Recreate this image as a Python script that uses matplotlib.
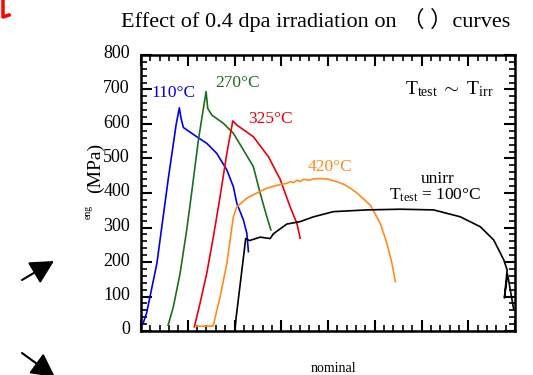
import matplotlib
matplotlib.use("Agg")
import matplotlib.pyplot as plt
from matplotlib.ticker import MultipleLocator
from matplotlib.lines import Line2D
import matplotlib.transforms as mtransforms

plt.rcParams['font.family'] = ['Liberation Serif', 'Noto Sans CJK SC']
plt.rcParams['mathtext.fontset'] = 'custom'
plt.rcParams['mathtext.rm'] = 'Liberation Serif'
plt.rcParams['mathtext.it'] = 'Liberation Serif:italic'

# ---- data (strain %, engineering stress MPa) ----
x_110 = [0.2, 0.6, 1.7, 2.9, 3.75, 4.1, 4.28, 4.53, 5.96, 7.03, 8.1, 9.18, 9.88, 10.25, 10.95, 11.32, 11.49]
y_110 = [20, 52, 196, 438, 597, 647, 617, 590, 563, 544, 515, 467, 418, 370, 322, 283, 230]

x_270 = [2.9, 3.46, 4.18, 4.89, 5.5, 6.14, 6.96, 7.14, 7.57, 8.81, 9.88, 10.95, 12.02, 12.74, 13.46, 13.89]
y_270 = [17, 70, 167, 293, 418, 554, 694, 645, 626, 602, 573, 525, 476, 400, 331, 293]

x_325 = [5.71, 6.32, 7.03, 7.74, 8.46, 9.18, 9.82, 10.25, 12.02, 13.63, 14.88, 15.95, 16.67, 17.02]
y_325 = [12, 81, 167, 273, 390, 515, 609, 597, 563, 505, 440, 360, 312, 269]

x_420 = [5.96, 7.67, 7.74, 8.46, 9.18, 9.88, 10.25, 11.32, 12.4, 13.46, 14.5, 15.6, 16.0, 16.3, 16.7, 17.0, 17.4,
         18.0, 18.5, 19.2, 20.0, 20.9, 21.7, 22.4, 23.1, 24.52, 25.59, 26.3, 26.84, 27.2]
y_420 = [14, 14, 17, 99, 196, 331, 360, 385, 400, 414, 422, 428, 433, 430, 437, 433, 440,
         437, 441, 442, 440, 433, 425, 414, 400, 365, 312, 254, 196, 143]

x_unirr = [10.06, 10.17, 11.2, 11.6, 12.74, 13.81, 14.17, 15.6, 17.02, 18.45, 20.59, 24.17, 27.73, 31.3, 34.15,
           36.3, 37.72, 38.8, 39.16, 38.87, 39.2, 39.87]
y_unirr = [5, 38, 268, 262, 272, 268, 282, 310, 317, 331, 346, 351, 353, 351, 331,
           302, 264, 206, 177, 96, 165, 61]

fig = plt.figure(figsize=(5.33, 3.75), dpi=100)
ax = fig.add_axes([141/533, 1-331/375, (515-141)/533, (331-55)/375])

ax.plot(x_110, y_110, color='#0000ee', lw=1.2)
ax.plot(x_270, y_270, color='#1b6e1b', lw=1.2)
ax.plot(x_325, y_325, color='#e8000b', lw=1.2)
ax.plot(x_420, y_420, color='#ff8c1a', lw=1.2)
ax.plot(x_unirr, y_unirr, color='black', lw=1.2)

ax.set_xlim(0, 40)
ax.set_ylim(0, 800)
ax.xaxis.set_major_locator(MultipleLocator(5))
ax.xaxis.set_minor_locator(MultipleLocator(1))
ax.yaxis.set_major_locator(MultipleLocator(100))
ax.yaxis.set_minor_locator(MultipleLocator(20))
ax.tick_params(which='both', direction='in', top=True, right=True, labelbottom=False)
ax.tick_params(which='major', length=8, width=1.5)
ax.tick_params(which='minor', length=4.5, width=1.2)
ax.tick_params(axis='y', labelsize=13, pad=8)
for s in ax.spines.values():
    s.set_linewidth(1.8)
off = mtransforms.ScaledTranslation(0, 3/100, fig.dpi_scale_trans)
for lab in ax.get_yticklabels():
    lab.set_transform(lab.get_transform() + off)

ax.text(3.5, 690, '110°C', color='#0000ee', fontsize=12.5, ha='center', va='center')
ax.text(10.3, 719, '270°C', color='#1b6e1b', fontsize=12.5, ha='center', va='center')
ax.text(13.9, 614, '325°C', color='#e8000b', fontsize=12.5, ha='center', va='center')
ax.text(20.2, 475, '420°C', color='#ff8c1a', fontsize=12.5, ha='center', va='center')
ax.text(31.7, 441, 'unirr', color='black', fontsize=12.5, ha='center', va='center')
ax.text(31.4, 392, r'$\mathrm{T_{test}}$ = 100°C', color='black', fontsize=12.5, ha='center', va='center')
ax.text(33.0, 700, r'$\mathrm{T_{test}\ \sim\ T_{irr}}$', color='black', fontsize=14, ha='center', va='center')

fig.text(316/533, 1-20/375, 'Effect of 0.4 dpa irradiation on （ ）curves', fontsize=16,
         ha='center', va='center')
fig.text(95/533, 1-168/375, '(MPa)', fontsize=14, rotation=90, ha='center', va='center')
fig.text(88/533, 1-212/375, 'eng', fontsize=7, rotation=90, ha='center', va='center')
fig.text(333/533, 1-368/375, 'nominal', fontsize=10, ha='center', va='center')

# decorations: arrows at left, red stroke top-left
H = 375
fig.add_artist(Line2D([3/533, 3/533, 9/533], [1, 1-17/H, 1-15/H], color='red', lw=2.5,
                      transform=fig.transFigure))
aprops = dict(arrowstyle='-|>,head_length=0.8,head_width=0.42', color='black', lw=1.5,
              mutation_scale=18, shrinkA=0, shrinkB=0)
ax.annotate('', xy=(54/533, 1-261/H), xytext=(22/533, 1-280/H), xycoords='figure fraction',
            textcoords='figure fraction', annotation_clip=False, arrowprops=aprops)
ax.annotate('', xy=(55/533, 1-377/H), xytext=(22/533, 1-353/H), xycoords='figure fraction',
            textcoords='figure fraction', annotation_clip=False, arrowprops=aprops)

fig.savefig('out.png', dpi=100)
